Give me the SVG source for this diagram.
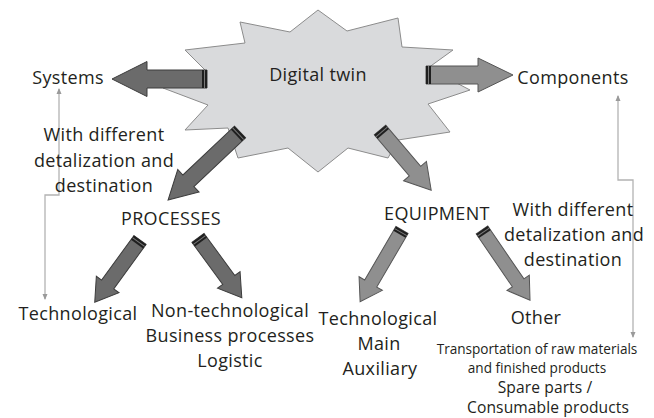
<svg xmlns="http://www.w3.org/2000/svg" width="654" height="418" viewBox="0 0 654 418">
  <defs>
    <style>
      .t { font-family: "Open Sans", "Liberation Sans", sans-serif; font-size: 18px; letter-spacing: 0.35px; fill: #231f20; text-anchor: middle; }
      .s { font-size: 13.6px; letter-spacing: 0px; }
      .m { font-size: 15.6px; letter-spacing: 0.1px; }
      .dark { fill: #6b6b6b; stroke: #3c3c3c; stroke-width: 1; stroke-linejoin: miter; }
      .light { fill: #8f8f8f; stroke: #555; stroke-width: 1; stroke-linejoin: miter; }
      .cap { fill: #1f1f1f; }
      .capline { stroke: #7a7a7a; stroke-width: 1; }
      .link { fill: none; stroke: #b3b3b3; stroke-width: 1.3; marker-start: url(#tip); marker-end: url(#tip); }
    </style>
    <marker id="tip" viewBox="0 0 6 6" refX="5" refY="3" markerWidth="6" markerHeight="6" markerUnits="userSpaceOnUse" orient="auto-start-reverse">
      <path d="M0,0.5 L6,3 L0,5.5 Z" fill="#9a9a9a"/>
    </marker>
  </defs>

  <rect width="654" height="418" fill="#ffffff"/>

  <!-- central burst -->
  <g id="digital-twin">
    <polygon points="318,10 347,31 398,18 402,47 453,50 428,68 470,90 428,104 450,132 398,140 388,158 348,148 318,172 288,148 238,158 228,128 185,130 208,105 163,88 205,70 185,50 245,43 240,22 290,32" fill="#d9dadc" stroke="#8c8c8c" stroke-width="1"/>
    <text class="t" x="318" y="81">Digital twin</text>
  </g>

  <!-- block arrows and thin connectors -->
  <g id="connectors">
    <g transform="translate(207,79) rotate(180)">
      <path class="dark" d="M0,-9 H60 V-17.5 L95,0 L60,17.5 V9 H0 Z"/>
      <rect class="cap" x="0" y="-9" width="5" height="18"/>
      <line class="capline" x1="2.5" y1="-9" x2="2.5" y2="9"/>
    </g>
    <g transform="translate(426,75)">
      <path class="light" d="M0,-9 H52 V-17 L87,0 L52,17 V9 H0 Z"/>
      <rect class="cap" x="0" y="-9" width="5" height="18"/>
      <line class="capline" x1="2.5" y1="-9" x2="2.5" y2="9"/>
    </g>
    <g transform="translate(240,132) rotate(136.6)">
      <path class="dark" d="M0,-8 H71 V-15.5 L99,0 L71,15.5 V8 H0 Z"/>
      <rect class="cap" x="0" y="-8" width="5" height="16"/>
      <line class="capline" x1="2.5" y1="-8" x2="2.5" y2="8"/>
    </g>
    <g transform="translate(380,130) rotate(49.6)">
      <path class="light" d="M0,-7.5 H54 V-15 L79,0 L54,15 V7.5 H0 Z"/>
      <rect class="cap" x="0" y="-7.5" width="5" height="15"/>
      <line class="capline" x1="2.5" y1="-7.5" x2="2.5" y2="7.5"/>
    </g>
    <g transform="translate(140,240) rotate(126)">
      <path class="dark" d="M0,-7.5 H55 V-14 L77,0 L55,14 V7.5 H0 Z"/>
      <rect class="cap" x="0" y="-7.5" width="5" height="15"/>
      <line class="capline" x1="2.5" y1="-7.5" x2="2.5" y2="7.5"/>
    </g>
    <g transform="translate(198,238) rotate(53.7)">
      <path class="dark" d="M0,-7.5 H52 V-14 L74,0 L52,14 V7.5 H0 Z"/>
      <rect class="cap" x="0" y="-7.5" width="5" height="15"/>
      <line class="capline" x1="2.5" y1="-7.5" x2="2.5" y2="7.5"/>
    </g>
    <g transform="translate(402,230) rotate(120.3)">
      <path class="light" d="M0,-7 H62 V-13.5 L83,0 L62,13.5 V7 H0 Z"/>
      <rect class="cap" x="0" y="-7" width="5" height="14"/>
      <line class="capline" x1="2.5" y1="-7" x2="2.5" y2="7"/>
    </g>
    <g transform="translate(482,230) rotate(55.6)">
      <path class="light" d="M0,-7 H64 V-13.5 L85,0 L64,13.5 V7 H0 Z"/>
      <rect class="cap" x="0" y="-7" width="5" height="14"/>
      <line class="capline" x1="2.5" y1="-7" x2="2.5" y2="7"/>
    </g>
    <path class="link" d="M59,89 V195 H45 V299"/>
    <path class="link" d="M618,96 V180 H633 V337"/>
  </g>

  <g id="systems">
    <text class="t" x="68" y="84">Systems</text>
  </g>
  <g id="components">
    <text class="t" x="573" y="84">Components</text>
  </g>
  <g id="detail-left">
    <text class="t" x="104" y="141">With different</text>
    <text class="t" x="104" y="167">detalization and</text>
    <text class="t" x="104" y="192">destination</text>
  </g>
  <g id="processes">
    <text class="t" x="171" y="225">PROCESSES</text>
  </g>
  <g id="equipment">
    <text class="t" x="437" y="220">EQUIPMENT</text>
  </g>
  <g id="detail-right">
    <text class="t" x="573" y="216">With different</text>
    <text class="t" x="574" y="241">detalization and</text>
    <text class="t" x="573" y="266">destination</text>
  </g>
  <g id="proc-technological">
    <text class="t" x="78" y="320">Technological</text>
  </g>
  <g id="proc-non-technological">
    <text class="t" x="230" y="317">Non-technological</text>
    <text class="t" x="230" y="342">Business processes</text>
    <text class="t" x="230" y="367">Logistic</text>
  </g>
  <g id="equip-technological">
    <text class="t" x="378" y="325">Technological</text>
    <text class="t" x="379" y="350">Main</text>
    <text class="t" x="380" y="375">Auxiliary</text>
  </g>
  <g id="equip-other">
    <text class="t" x="536" y="324">Other</text>
    <text class="t s" x="537" y="354">Transportation of raw materials</text>
    <text class="t s" x="537" y="373">and finished products</text>
    <text class="t m" x="545" y="393">Spare parts /</text>
    <text class="t m" x="548" y="413">Consumable products</text>
  </g>
</svg>
